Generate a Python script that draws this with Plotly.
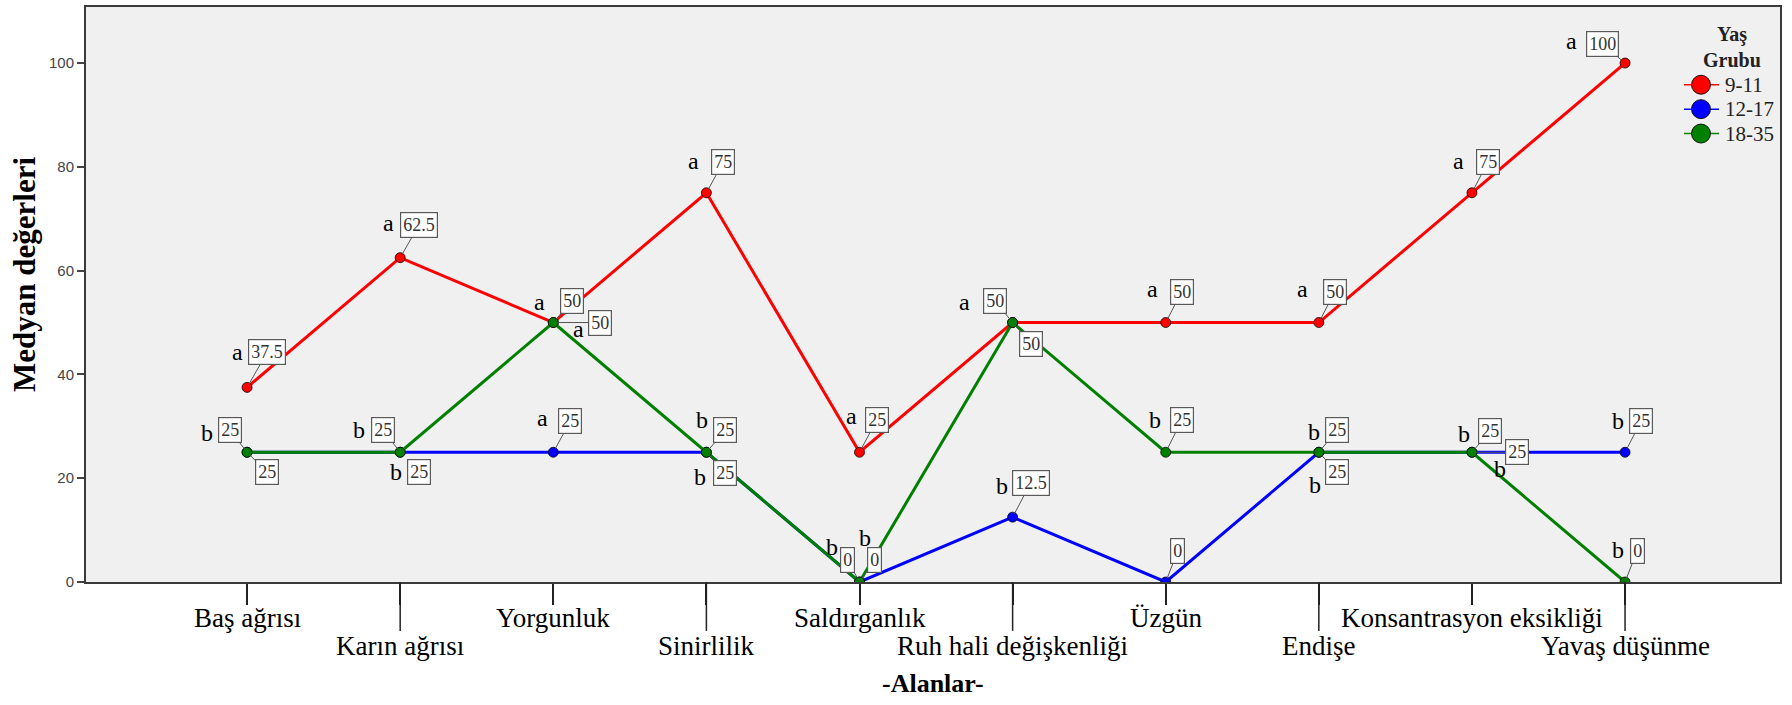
import plotly.graph_objects as go

# --- data -----------------------------------------------------------------
categories = ["Baş ağrısı", "Karın ağrısı", "Yorgunluk", "Sinirlilik", "Saldırganlık",
              "Ruh hali değişkenliği", "Üzgün", "Endişe", "Konsantrasyon eksikliği",
              "Yavaş düşünme"]
group_names = ["9-11", "12-17", "18-35"]
median_9_11 = [37.5, 62.5, 50, 75, 25, 50, 50, 50, 75, 100]
median_12_17 = [25, 25, 25, 25, 0, 12.5, 0, 25, 25, 25]
median_18_35 = [25, 25, 50, 25, 0, 50, 25, 25, 25, 0]
letters_9_11 = ["a", "a", "a", "a", "a", "a", "a", "a", "a", "a"]
letters_12_17 = ["b", "b", "a", "b", "b", "b", "", "b", "b", "b"]
letters_18_35 = ["", "b", "a", "b", "b", "", "b", "b", "b", "b"]
y_ticks = [0, 20, 40, 60, 80, 100]

# --- style ----------------------------------------------------------------
colors = ["#ff0000", "#0000ff", "#008000"]
SERIF = "Liberation Serif"
SANS = "Liberation Sans"

W, H = 1792, 705
M_L, M_R, M_T, M_B = 86, 12, 5, 123
PLOT_W = W - M_L - M_R
PLOT_H = H - M_T - M_B


def px_x(px):
    """page pixel column -> paper x"""
    return (px - M_L) / PLOT_W


def px_y(py):
    """page pixel row -> paper y"""
    return (H - M_B - py) / PLOT_H


# pixel offsets (right, down) of the value boxes and of the letters from each point
box_offsets = [
    [(20, -35), (19, -33), (19, -22), (17, -31), (17, -32), (-18, -22), (16, -31), (16, -31), (16, -31), (-23, -19)],
    [(-17, -22), (-17, -22), (17, -31), (19, -22), (-12, -22), (18, -34), (12, -31), (18, -22), (45, 0), (16, -31)],
    [(20, 20), (19, 20), (47, 0), (19, 21), (15, -22), (18, 21), (16, -32), (18, 20), (18, -21), (12, -31)],
]
letter_offsets = [
    [(-10, -35), (-12, -35), (-14, -21), (-13, -32), (-8, -36), (-48, -21), (-13, -34), (-16, -34), (-13, -32), (-54, -22)],
    [(-40, -19), (-41, -22), (-11, -34), (-4, -32), (-28, -35), (-11, -31), (0, 0), (-5, -20), (28, 17), (-7, -31)],
    [(0, 0), (-4, 20), (25, 6), (-6, 25), (5, -44), (0, 0), (-11, -32), (-4, 33), (-8, -18), (-7, -32)],
]

series = [median_9_11, median_12_17, median_18_35]
letters = [letters_9_11, letters_12_17, letters_18_35]

X_MIN, X_MAX = -1.052, 10.012
Y_MAX = 110.8
idx = list(range(len(categories)))

fig = go.Figure()

for name, vals, col in zip(group_names, series, colors):
    fig.add_trace(go.Scatter(
        x=idx, y=vals, mode="lines+markers", name=name, showlegend=False,
        line=dict(color=col, width=3),
        marker=dict(color=col, size=10, line=dict(color="rgba(0,0,0,0.75)", width=1)),
        hoverinfo="skip"))

annotations = []
shapes = []
for s, (vals, lets) in enumerate(zip(series, letters)):
    for i, v in enumerate(vals):
        dx, dy = box_offsets[s][i]
        annotations.append(dict(
            x=i, y=v, xref="x", yref="y", text=f"{v:g}", showarrow=True,
            ax=dx, ay=dy, arrowhead=0, arrowwidth=1, arrowcolor="#555555", standoff=4,
            bgcolor="white", bordercolor="#5a5a5a", borderwidth=1.2, borderpad=2,
            font=dict(family=SERIF, size=18, color="#333333")))
        if lets[i]:
            lx, ly = letter_offsets[s][i]
            annotations.append(dict(
                x=i, y=v, xref="x", yref="y", text=lets[i], showarrow=False,
                xshift=lx, yshift=-ly, font=dict(family=SERIF, size=24, color="black")))

# staggered category labels below the axis
for i, cat in enumerate(categories):
    annotations.append(dict(
        x=i, y=0, xref="x", yref="paper", text=cat, showarrow=False,
        yanchor="middle", yshift=-36 if i % 2 == 0 else -64,
        font=dict(family=SERIF, size=27, color="black")))

annotations.append(dict(
    x=0.5, y=0, xref="paper", yref="paper", text="<b>-Alanlar-</b>", showarrow=False,
    yanchor="middle", yshift=-101, font=dict(family=SERIF, size=26, color="black")))
annotations.append(dict(
    x=px_x(25), y=0.534, xref="paper", yref="paper", text="<b>Medyan değerleri</b>",
    xanchor="center", yanchor="middle",
    showarrow=False, textangle=-90, font=dict(family=SERIF, size=31, color="black")))

# longer ticks under the second label row
for i in idx:
    if i % 2 == 1:
        px = (i - X_MIN) / (X_MAX - X_MIN)
        shapes.append(dict(type="line", xref="paper", yref="paper", x0=px, x1=px,
                           y0=0, y1=-0.085, line=dict(color="#222222", width=1.5)))

# legend block: title, line-with-circle swatches and group names
LEG_X = 4
for text, row in (("<b>Yaş</b>", 33), ("<b>Grubu</b>", 58)):
    annotations.append(dict(
        x=px_x(1728 + LEG_X), y=px_y(row), xref="paper", yref="paper", text=text,
        showarrow=False, xanchor="center", yanchor="middle",
        font=dict(family=SERIF, size=20, color="#222222")))
for k, (name, col) in enumerate(zip(group_names, colors)):
    row = 83 + 24.5 * k
    shapes.append(dict(type="line", xref="paper", yref="paper",
                       x0=px_x(1680 + LEG_X), x1=px_x(1715 + LEG_X),
                       y0=px_y(row), y1=px_y(row),
                       line=dict(color=col, width=1.5)))
    shapes.append(dict(type="circle", xref="paper", yref="paper",
                       xsizemode="pixel", ysizemode="pixel",
                       xanchor=px_x(1697 + LEG_X), yanchor=px_y(row),
                       x0=-9.5, x1=9.5, y0=-9.5, y1=9.5,
                       fillcolor=col, line=dict(color="rgba(0,0,0,0.85)", width=1)))
    annotations.append(dict(
        x=px_x(1719 + LEG_X), y=px_y(row), xref="paper", yref="paper", text=name,
        showarrow=False, xanchor="left", yanchor="middle",
        font=dict(family=SERIF, size=21, color="#222222")))

fig.update_layout(
    width=W, height=H,
    margin=dict(l=M_L, r=M_R, t=M_T, b=M_B),
    paper_bgcolor="white", plot_bgcolor="#f0f0f0",
    showlegend=False,
    annotations=annotations, shapes=shapes,
    xaxis=dict(range=[X_MIN, X_MAX], tickvals=idx, showticklabels=False,
               ticks="outside", ticklen=21, tickwidth=1.5, tickcolor="#222222",
               showgrid=False, zeroline=False, showline=True, mirror=True,
               linecolor="#3a3a3a", linewidth=2),
    yaxis=dict(range=[0, Y_MAX], tickvals=y_ticks, ticks="outside", ticklen=7,
               tickwidth=1.5, tickcolor="#444444",
               tickfont=dict(family=SANS, size=15, color="#444444"),
               showgrid=False, zeroline=False, showline=True, mirror=True,
               linecolor="#3a3a3a", linewidth=2),
)

fig.write_html("out.html")
